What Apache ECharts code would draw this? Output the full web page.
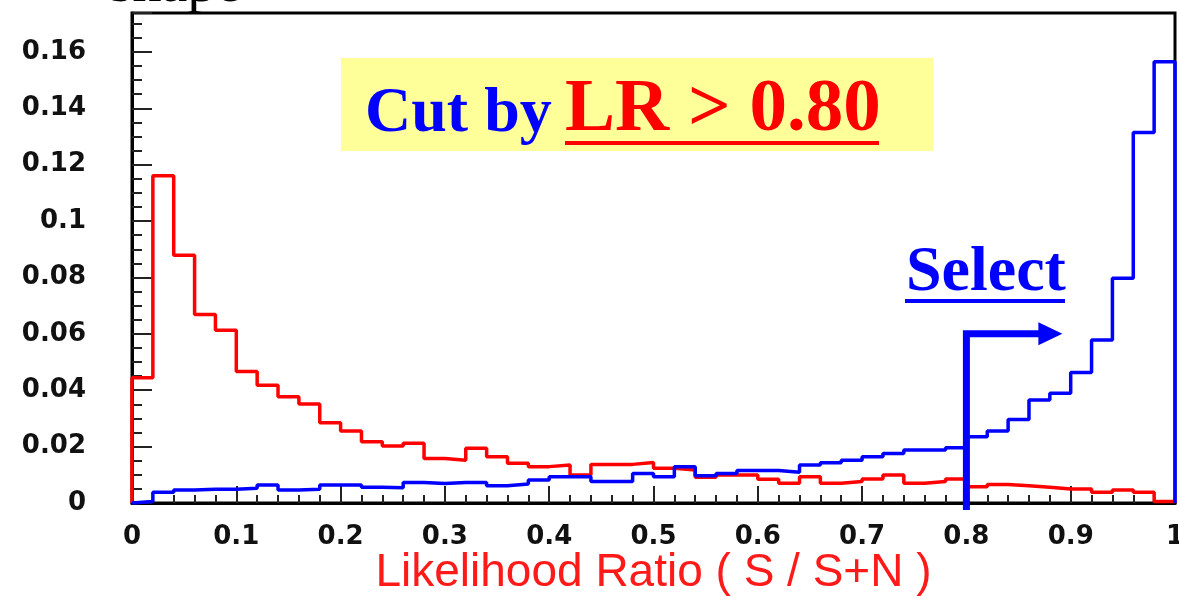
<!DOCTYPE html>
<html>
<head>
<meta charset="utf-8">
<script src="https://cdn.jsdelivr.net/npm/echarts@6/dist/echarts.min.js"></script>
<style>
  html, body { margin: 0; padding: 0; background: #fff; overflow: hidden; }
  #chart { width: 1179px; height: 597px; }
</style>
</head>
<body>
<div id="chart"></div>
<script>
// Likelihood-ratio distributions, 50 bins of width 0.02 over [0, 1]
const binWidth = 0.02;

// Noise (red) shape
const noise = [
  0.0444, 0.1161, 0.0879, 0.0669, 0.0613, 0.0466, 0.0418, 0.0377, 0.0351, 0.0285,
  0.0255, 0.0217, 0.0202, 0.0212, 0.0158, 0.0152, 0.0194, 0.0164, 0.0141, 0.0129,
  0.0135, 0.0099, 0.0137, 0.0137, 0.0144, 0.0123, 0.0117, 0.0091, 0.0099, 0.0099,
  0.0084, 0.0070, 0.0093, 0.0070, 0.0076, 0.0085, 0.0099, 0.0070, 0.0076, 0.0085,
  0.0058, 0.0066, 0.0061, 0.0056, 0.0050, 0.0050, 0.0038, 0.0046, 0.0038, 0.0005
];

// Signal (blue) shape
const signal = [
  0.0005, 0.0038, 0.0046, 0.0049, 0.0049, 0.0052, 0.0064, 0.0046, 0.0049, 0.0064,
  0.0064, 0.0056, 0.0054, 0.0073, 0.0069, 0.0073, 0.0073, 0.0061, 0.0067, 0.0082,
  0.0093, 0.0093, 0.0076, 0.0076, 0.0105, 0.0093, 0.0129, 0.0097, 0.0105, 0.0115,
  0.0115, 0.0109, 0.0135, 0.0143, 0.0152, 0.0164, 0.0176, 0.0188, 0.0188, 0.0196,
  0.0235, 0.0255, 0.0296, 0.0365, 0.0389, 0.0463, 0.0578, 0.0797, 0.1314, 0.1565
];

const xTickLabels = ['0', '0.1', '0.2', '0.3', '0.4', '0.5', '0.6', '0.7', '0.8', '0.9', '1'];
const yTickLabels = ['0', '0.02', '0.04', '0.06', '0.08', '0.1', '0.12', '0.14', '0.16'];

// Selection cut and the arrow that points to the kept region
const cutValue = 0.80;
const arrowTop = 0.06;
const arrowTip = 0.892;

const yMax = 0.1738;

// Step outline of a histogram: rise at x=0, fall back to zero at x=1
function histPoints(values) {
  const pts = [[0, 0]];
  values.forEach((v, i) => pts.push([i * binWidth, v]));
  const end = values.length * binWidth;
  pts.push([end, values[values.length - 1]]);
  pts.push([end, 0]);
  return pts;
}

function labelAt(labels, step) {
  return function (v) {
    const i = Math.round(v / step);
    if (Math.abs(v - i * step) > 1e-9) return '';
    return labels[i] !== undefined ? labels[i] : '';
  };
}

const tickFont = { fontFamily: 'DejaVu Sans', fontWeight: 'bold', fontSize: 26, color: '#111' };

const chart = echarts.init(document.getElementById('chart'), null, { renderer: 'canvas' });

chart.setOption({
  animation: false,
  backgroundColor: '#fff',
  grid: {
    left: 132, right: 4, top: 13, bottom: 94,
    outerBoundsMode: 'none',
    containLabel: false,
    show: true, borderColor: '#000', borderWidth: 3, backgroundColor: '#fff'
  },
  xAxis: {
    type: 'value', min: 0, max: 1, interval: 0.1,
    axisLine: { show: true, onZero: false, lineStyle: { color: '#000', width: 3 } },
    axisTick: { show: true, inside: true, length: 17, lineStyle: { color: '#222', width: 2 } },
    minorTick: { show: true, splitNumber: 5, length: 8, lineStyle: { color: '#222', width: 2 } },
    splitLine: { show: false },
    axisLabel: Object.assign({ margin: 21, formatter: labelAt(xTickLabels, 0.1) }, tickFont),
    name: 'Likelihood Ratio ( S / S+N )',
    nameLocation: 'middle',
    nameGap: 47,
    nameMoveOverlap: false,
    nameTextStyle: { fontFamily: 'Liberation Sans', fontSize: 46, color: '#ff1a1a' }
  },
  yAxis: [
    {
      type: 'value', min: 0, max: yMax, interval: 0.02,
      axisLine: { show: true, onZero: false, lineStyle: { color: '#000', width: 3 } },
      axisTick: { show: true, inside: true, length: 20, lineStyle: { color: '#222', width: 2 } },
      splitLine: { show: false },
      axisLabel: Object.assign({ margin: 46, padding: [6, 0, 0, 0], formatter: labelAt(yTickLabels, 0.02) }, tickFont)
    },
    {
      type: 'value', min: 0, max: yMax, interval: 0.005, position: 'left',
      axisLine: { show: false },
      axisTick: { show: true, inside: true, length: 10, lineStyle: { color: '#222', width: 2 } },
      splitLine: { show: false },
      axisLabel: { show: false }
    }
  ],
  series: [
    {
      name: 'noise', type: 'line', step: 'end', showSymbol: false, symbol: 'none',
      data: histPoints(noise), clip: false,
      lineStyle: { color: '#ff0000', width: 3.5 }, z: 3
    },
    {
      name: 'signal', type: 'line', step: 'end', showSymbol: false, symbol: 'none',
      data: histPoints(signal), clip: false,
      lineStyle: { color: '#0000ff', width: 3.5 }, z: 4
    }
  ]
});

// Annotations: cut caption, "Select" label and arrow anchored at the cut value
const cutX = chart.convertToPixel({ xAxisIndex: 0 }, cutValue);
const tipX = chart.convertToPixel({ xAxisIndex: 0 }, arrowTip);
const topY = chart.convertToPixel({ yAxisIndex: 0 }, arrowTop);
const zeroY = chart.convertToPixel({ yAxisIndex: 0 }, 0);
const headLen = 24, headHalf = 11.5;

chart.setOption({
  graphic: [
    {
      type: 'text', z: 50,
      style: { text: 'shape', x: 110, y: 15, verticalAlign: 'bottom',
        font: 'normal 58px "Liberation Serif"', fill: '#000' }
    },
    {
      type: 'rect', z: 10,
      shape: { x: 341, y: 58, width: 592, height: 93 },
      style: { fill: '#ffff99' }
    },
    {
      type: 'text', z: 11,
      style: { text: 'Cut by', x: 365, y: 114, verticalAlign: 'middle',
        font: 'bold 64px "Liberation Serif"', fill: '#0000ff' }
    },
    {
      type: 'text', z: 11,
      style: { text: 'LR > ' + cutValue.toFixed(2), x: 565, y: 111, verticalAlign: 'middle',
        font: 'bold 75px "Liberation Serif"', fill: '#ff0000' }
    },
    {
      type: 'rect', z: 11,
      shape: { x: 565, y: 141, width: 314, height: 4 },
      style: { fill: '#ff0000' }
    },
    {
      type: 'text', z: 11,
      style: { text: 'Select', x: 906, y: 273, verticalAlign: 'middle',
        font: 'bold 64px "Liberation Serif"', fill: '#0000ff' }
    },
    {
      type: 'rect', z: 11,
      shape: { x: 905, y: 299, width: 160, height: 4 },
      style: { fill: '#0000ff' }
    },
    {
      type: 'polyline', z: 100,
      shape: { points: [[cutX, zeroY + 7], [cutX, topY], [tipX - headLen + 2, topY]] },
      style: { stroke: '#0000ff', lineWidth: 7, lineJoin: 'miter', fill: null }
    },
    {
      type: 'polygon', z: 100,
      shape: { points: [[tipX - headLen, topY - headHalf], [tipX, topY], [tipX - headLen, topY + headHalf]] },
      style: { fill: '#0000ff' }
    }
  ]
});
</script>
</body>
</html>
